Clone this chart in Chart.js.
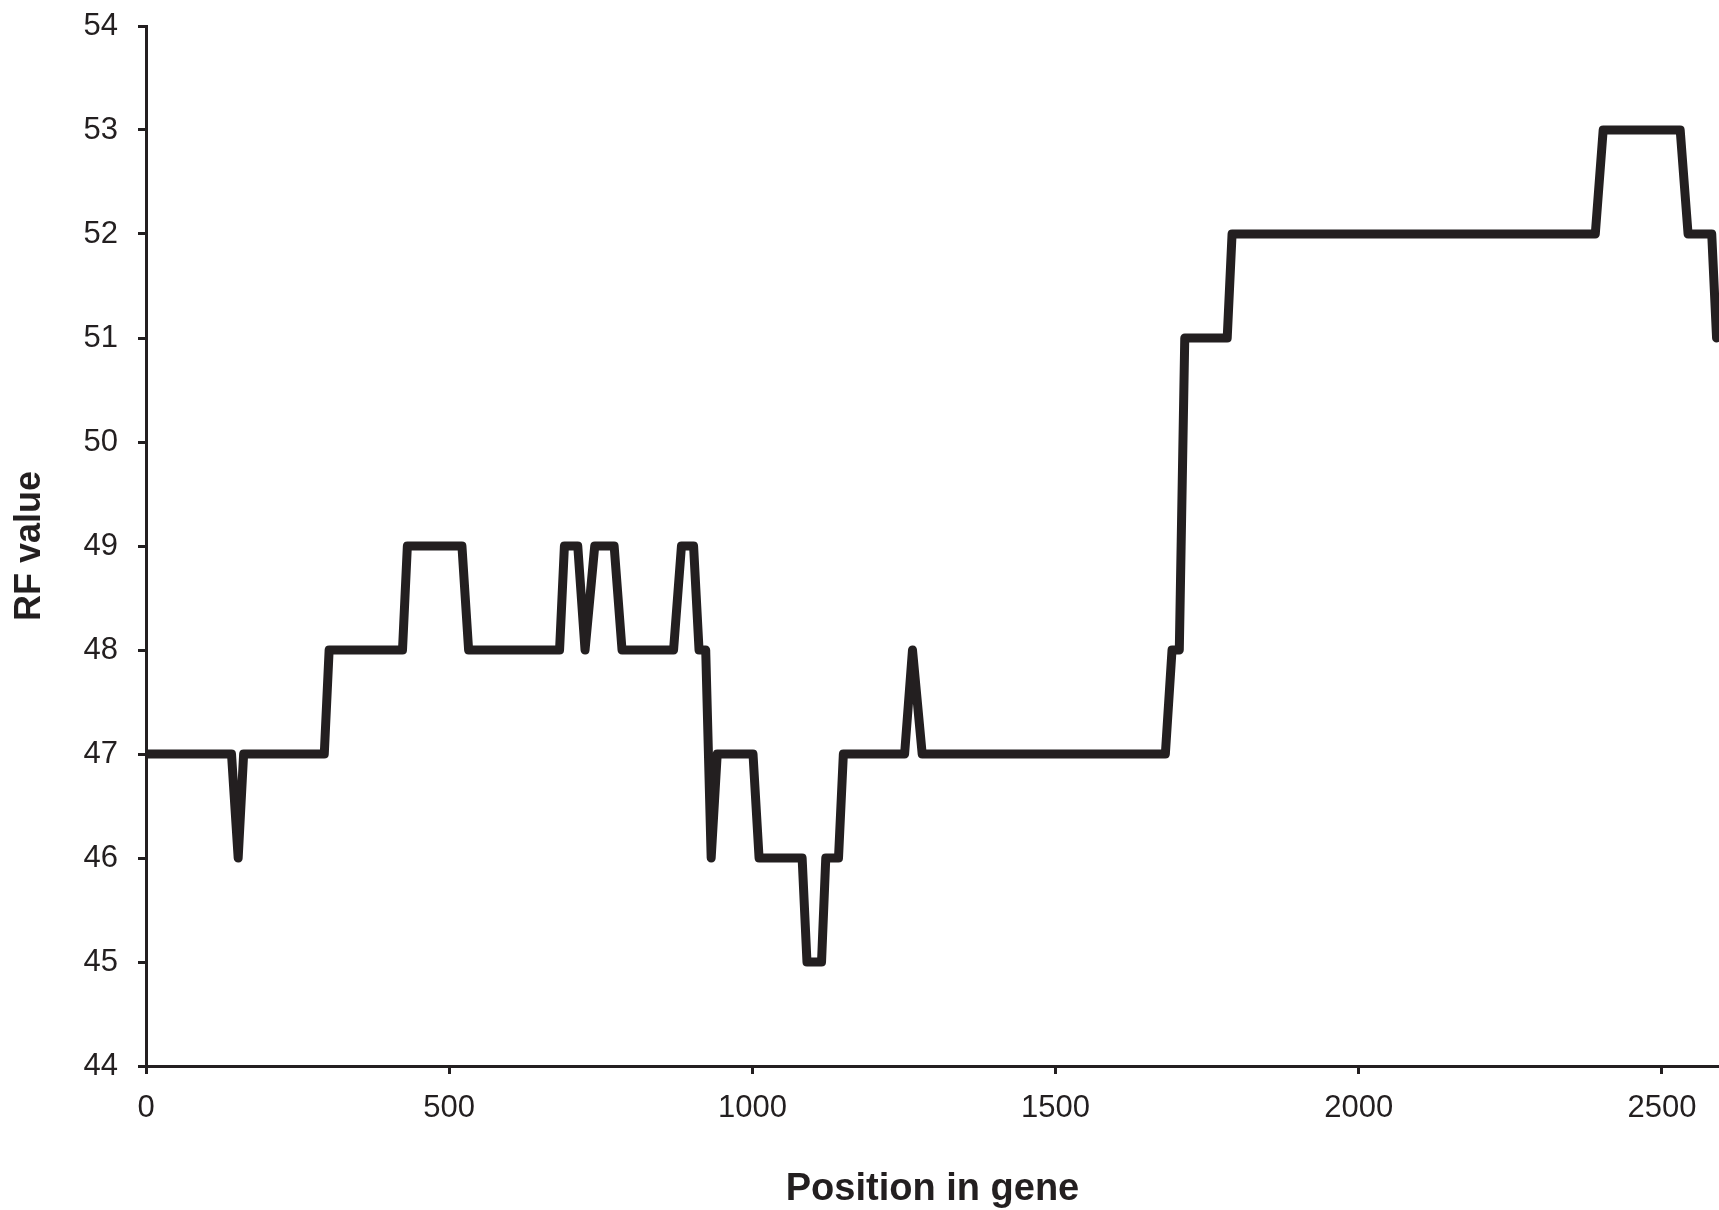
<!DOCTYPE html>
<html>
<head>
<meta charset="utf-8">
<title>RF value</title>
<script src="https://cdn.jsdelivr.net/npm/chart.js@4.4.1/dist/chart.umd.min.js"></script>
<style>
  html, body { margin: 0; padding: 0; background: #fff; }
  #wrap { width: 1719px; height: 1210px; position: relative; }
</style>
</head>
<body>
<div id="wrap"><canvas id="rfChart"></canvas></div>
<script>
// corner points of the RF trace
const positions = [0, 141, 152, 161, 294, 302, 423, 431, 521, 532, 682, 690, 712, 724, 740, 772, 785,
  870, 883, 903, 912, 923, 932, 942, 1001, 1011, 1082, 1090, 1114, 1121, 1142, 1150, 1251, 1264,
  1280, 1681, 1692, 1704, 1713, 1783, 1791, 2390, 2403, 2530, 2543, 2582, 2590];
const rfValues = [47, 47, 46, 47, 47, 48, 48, 49, 49, 48, 48, 49, 49, 48, 49, 49, 48,
  48, 49, 49, 48, 48, 46, 47, 47, 46, 46, 45, 45, 46, 46, 47, 47, 48,
  47, 47, 48, 48, 51, 51, 52, 52, 53, 53, 52, 52, 51];

const xTicks = [0, 500, 1000, 1500, 2000, 2500];
const yTicks = [44, 45, 46, 47, 48, 49, 50, 51, 52, 53, 54];

const xTitle = 'Position in gene';
const yTitle = 'RF value';

const ink = '#231f20';
const family = '"Liberation Sans", Arial, sans-serif';
const tickFont = { family: family, size: 31 };

const points = positions.map((p, i) => ({ x: p, y: rfValues[i] }));

new Chart(document.getElementById('rfChart'), {
  type: 'line',
  data: {
    datasets: [{
      data: points,
      borderColor: ink,
      borderWidth: 9,
      borderJoinStyle: 'round',
      borderCapStyle: 'round',
      pointRadius: 0,
      tension: 0,
      fill: false
    }]
  },
  options: {
    responsive: true,
    maintainAspectRatio: false,
    animation: false,
    layout: { padding: { top: 26, right: 0, bottom: 0, left: 0 } },
    plugins: { legend: { display: false }, tooltip: { enabled: false } },
    scales: {
      x: {
        type: 'linear',
        min: 0,
        max: 2594,
        afterBuildTicks: (axis) => { axis.ticks = xTicks.map(v => ({ value: v })); },
        afterFit: (axis) => {
          axis.height = 144;
          axis.paddingLeft = 0;
          axis.paddingRight = 0;
        },
        border: { color: ink, width: 3 },
        grid: { drawOnChartArea: false, color: ink, lineWidth: 3, tickLength: 8 },
        ticks: { color: ink, font: tickFont, padding: 16, maxRotation: 0, autoSkip: false, callback: (v) => String(v) },
        title: {
          display: true, text: xTitle, color: ink,
          font: { family: family, size: 38, weight: 'bold', lineHeight: 1.1 },
          padding: { top: 0, bottom: 0 }
        }
      },
      y: {
        min: 44,
        max: 54,
        afterBuildTicks: (axis) => { axis.ticks = yTicks.map(v => ({ value: v })); },
        afterFit: (axis) => {
          axis.width = 146;
          axis.paddingTop = 0;
          axis.paddingBottom = 0;
        },
        border: { color: ink, width: 3 },
        grid: { drawOnChartArea: false, color: ink, lineWidth: 3, tickLength: 8 },
        ticks: { color: ink, font: tickFont, padding: 20, autoSkip: false, callback: (v) => String(v) },
        title: {
          display: true, text: yTitle, color: ink,
          font: { family: family, size: 36, weight: 'bold' },
          padding: { top: 8, bottom: 0 }
        }
      }
    }
  }
});
</script>
</body>
</html>
